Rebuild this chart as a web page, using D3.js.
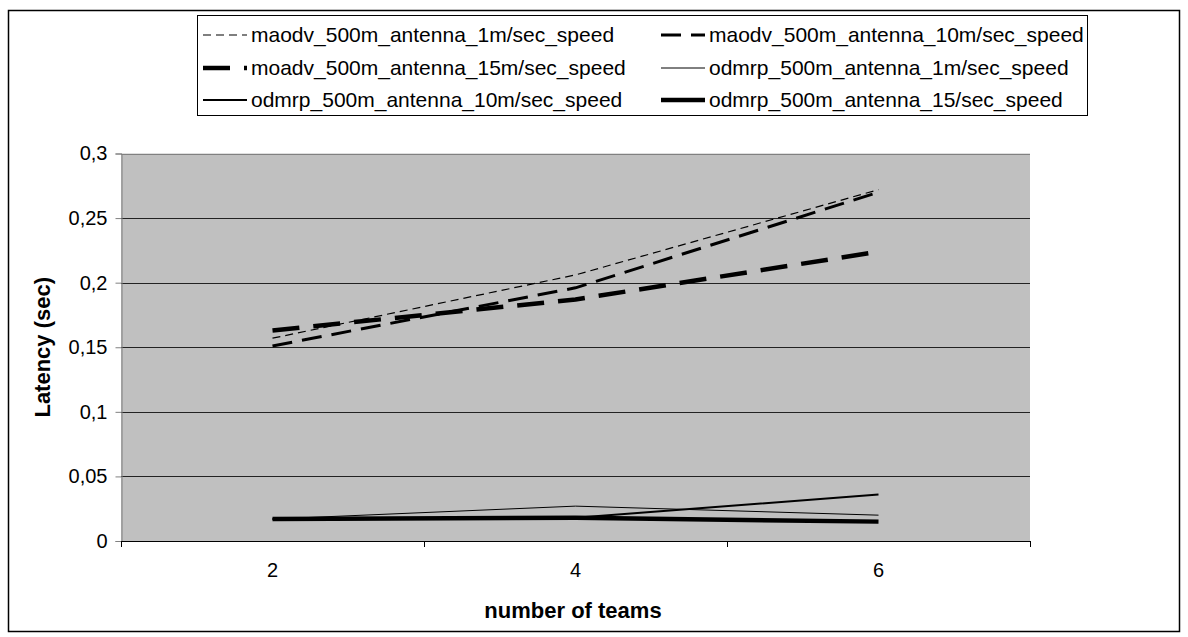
<!DOCTYPE html>
<html>
<head>
<meta charset="utf-8">
<script src="https://cdn.jsdelivr.net/npm/d3@7"></script>
<style>
  html, body { margin: 0; padding: 0; background: #ffffff; }
  svg { display: block; font-family: "Liberation Sans", Arial, sans-serif; }
</style>
</head>
<body>
<svg id="chart" width="1188" height="637"></svg>
<script>
// Number of teams (x categories)
const teams = ["2", "4", "6"];

// Latency in seconds per series
const maodv1 = [0.157, 0.206, 0.272];
const maodv10 = [0.151, 0.196, 0.270];
const moadv15 = [0.163, 0.187, 0.224];
const odmrp1 = [0.017, 0.027, 0.020];
const odmrp10 = [0.017, 0.018, 0.036];
const odmrp15 = [0.017, 0.018, 0.015];

const seriesNames = [
  "maodv_500m_antenna_1m/sec_speed",
  "maodv_500m_antenna_10m/sec_speed",
  "moadv_500m_antenna_15m/sec_speed",
  "odmrp_500m_antenna_1m/sec_speed",
  "odmrp_500m_antenna_10m/sec_speed",
  "odmrp_500m_antenna_15/sec_speed"
];
const yTicks = [0, 0.05, 0.1, 0.15, 0.2, 0.25, 0.3];

// stroke styles for each series
const styles = [
  { w: 1.2, dash: "8,5" },
  { w: 3, dash: "20,10" },
  { w: 4.5, dash: "27,14" },
  { w: 1, dash: null },
  { w: 2, dash: null },
  { w: 4.5, dash: null }
];

const seriesValues = [maodv1, maodv10, moadv15, odmrp1, odmrp10, odmrp15];
const series = seriesNames.map((name, i) => ({ name, values: seriesValues[i], style: styles[i] }));

const svg = d3.select("#chart");

// outer frame
svg.append("rect")
  .attr("x", 8.5).attr("y", 10.5)
  .attr("width", 1171).attr("height", 621)
  .attr("fill", "#fff").attr("stroke", "#000").attr("stroke-width", 1.5);

const plot = { left: 121, right: 1030, top: 153.5, bottom: 541 };

const x = d3.scaleBand().domain(teams).range([plot.left, plot.right]);
const y = d3.scaleLinear().domain([0, 0.3]).range([plot.bottom, plot.top]);

// plot background
svg.append("rect")
  .attr("x", plot.left).attr("y", plot.top)
  .attr("width", plot.right - plot.left).attr("height", plot.bottom - plot.top)
  .attr("fill", "#c0c0c0");

// horizontal gridlines
svg.append("g")
  .selectAll("line")
  .data(yTicks.filter(d => d > 0))
  .join("line")
  .attr("x1", plot.left).attr("x2", plot.right)
  .attr("y1", d => Math.round(y(d)) + 0.5).attr("y2", d => Math.round(y(d)) + 0.5)
  .attr("stroke", d => d === 0.3 ? "#808080" : "#222")
  .attr("stroke-width", 1);

// y axis
const yAxis = d3.axisLeft(y)
  .tickValues(yTicks)
  .tickSize(6)
  .tickPadding(8)
  .tickFormat(d => d3.format("")(d).replace(".", ","));
const gy = svg.append("g")
  .attr("transform", `translate(${plot.left + 0.5},0)`)
  .call(yAxis);
gy.select(".domain").attr("stroke", "#808080");
gy.selectAll(".tick line").attr("stroke", "#808080");
gy.selectAll(".tick text")
  .attr("font-size", 20).attr("fill", "#000")
  .attr("font-family", "Liberation Sans, Arial, sans-serif");

// x axis: baseline, ticks at category boundaries, labels at centers
svg.append("line")
  .attr("x1", plot.left).attr("x2", plot.right)
  .attr("y1", plot.bottom + 0.5).attr("y2", plot.bottom + 0.5)
  .attr("stroke", "#000").attr("stroke-width", 1);

const boundaries = teams.map(t => x(t)).concat([x(teams[teams.length - 1]) + x.bandwidth()]);
svg.append("g")
  .selectAll("line")
  .data(boundaries)
  .join("line")
  .attr("x1", d => Math.round(d) + 0.5).attr("x2", d => Math.round(d) + 0.5)
  .attr("y1", plot.bottom).attr("y2", plot.bottom + 6)
  .attr("stroke", "#000");

svg.append("g")
  .selectAll("text")
  .data(teams)
  .join("text")
  .attr("x", d => x(d) + x.bandwidth() / 2)
  .attr("y", 577)
  .attr("text-anchor", "middle")
  .attr("font-size", 20)
  .text(d => d);

// axis titles
svg.append("text")
  .attr("x", 573).attr("y", 618)
  .attr("text-anchor", "middle")
  .attr("font-size", 22).attr("font-weight", "bold")
  .text("number of teams");

svg.append("text")
  .attr("transform", `translate(50,${(plot.top + plot.bottom) / 2}) rotate(-90)`)
  .attr("text-anchor", "middle")
  .attr("font-size", 22).attr("font-weight", "bold")
  .text("Latency (sec)");

// series lines
const line = d3.line()
  .x((d, i) => x(teams[i]) + x.bandwidth() / 2)
  .y(d => y(d));

const linesG = svg.append("g");
series.forEach(s => {
  linesG.append("path")
    .datum(s.values)
    .attr("d", line)
    .attr("fill", "none")
    .attr("stroke", "#000")
    .attr("stroke-width", s.style.w)
    .attr("stroke-dasharray", s.style.dash);
});

// legend
const legend = svg.append("g");
legend.append("rect")
  .attr("x", 197.5).attr("y", 15.5)
  .attr("width", 890).attr("height", 100)
  .attr("fill", "#fff").attr("stroke", "#000").attr("stroke-width", 1);

const colX = [203, 661];
const rowY = [35, 68, 100];
series.forEach((s, i) => {
  const cx = colX[i % 2];
  const cy = rowY[Math.floor(i / 2)];
  legend.append("line")
    .attr("x1", cx).attr("x2", cx + 44)
    .attr("y1", cy).attr("y2", cy)
    .attr("stroke", "#000")
    .attr("stroke-width", s.style.w)
    .attr("stroke-dasharray", s.style.dash);
  legend.append("text")
    .attr("x", cx + 48).attr("y", cy + 7)
    .attr("font-size", 21)
    .text(s.name);
});
</script>
</body>
</html>
